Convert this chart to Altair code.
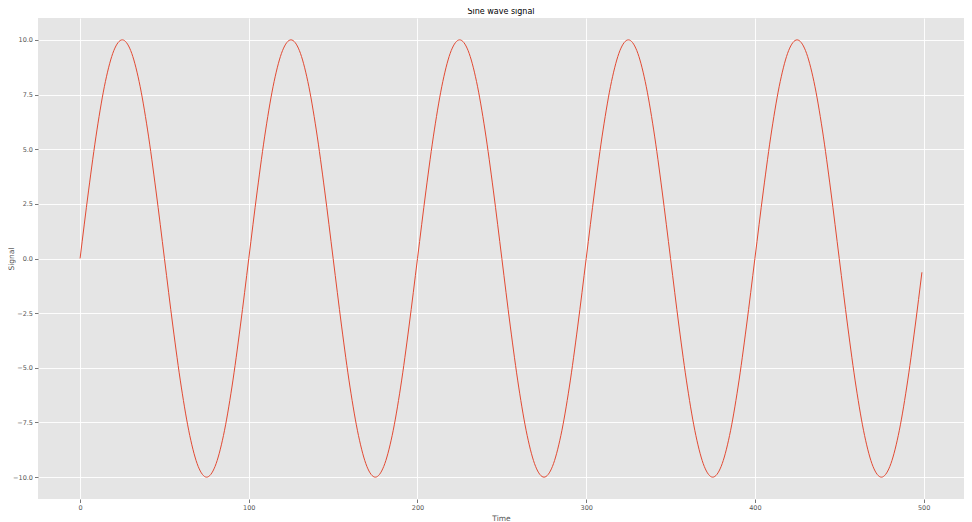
import altair as alt
import pandas as pd

time = [0, 5, 10, 15, 20, 25, 30, 35, 40, 45, 50, 55, 60, 65, 70, 75, 80, 85, 90, 95,
        100, 105, 110, 115, 120, 125, 130, 135, 140, 145, 150, 155, 160, 165, 170, 175, 180, 185, 190, 195,
        200, 205, 210, 215, 220, 225, 230, 235, 240, 245, 250, 255, 260, 265, 270, 275, 280, 285, 290, 295,
        300, 305, 310, 315, 320, 325, 330, 335, 340, 345, 350, 355, 360, 365, 370, 375, 380, 385, 390, 395,
        400, 405, 410, 415, 420, 425, 430, 435, 440, 445, 450, 455, 460, 465, 470, 475, 480, 485, 490, 495,
        499]

signal = [0.0, 3.09, 5.88, 8.09, 9.51, 10.0, 9.51, 8.09, 5.88, 3.09, 0.0, -3.09, -5.88, -8.09, -9.51, -10.0, -9.51, -8.09, -5.88, -3.09,
          0.0, 3.09, 5.88, 8.09, 9.51, 10.0, 9.51, 8.09, 5.88, 3.09, 0.0, -3.09, -5.88, -8.09, -9.51, -10.0, -9.51, -8.09, -5.88, -3.09,
          0.0, 3.09, 5.88, 8.09, 9.51, 10.0, 9.51, 8.09, 5.88, 3.09, 0.0, -3.09, -5.88, -8.09, -9.51, -10.0, -9.51, -8.09, -5.88, -3.09,
          0.0, 3.09, 5.88, 8.09, 9.51, 10.0, 9.51, 8.09, 5.88, 3.09, 0.0, -3.09, -5.88, -8.09, -9.51, -10.0, -9.51, -8.09, -5.88, -3.09,
          0.0, 3.09, 5.88, 8.09, 9.51, 10.0, 9.51, 8.09, 5.88, 3.09, 0.0, -3.09, -5.88, -8.09, -9.51, -10.0, -9.51, -8.09, -5.88, -3.09,
          -0.63]

x_ticks = [0, 100, 200, 300, 400, 500]
y_ticks = [-10.0, -7.5, -5.0, -2.5, 0.0, 2.5, 5.0, 7.5, 10.0]

df = pd.DataFrame({"Time": time, "Signal": signal})

FONT = "DejaVu Sans"

chart = (
    alt.Chart(df)
    .mark_line(color="#E24A33", strokeWidth=1, interpolate="monotone")
    .encode(
        x=alt.X(
            "Time:Q",
            scale=alt.Scale(domain=[-24.95, 523.95], nice=False, zero=False),
            axis=alt.Axis(
                values=x_ticks,
                title="Time",
                format="d",
                titlePadding=3,
            ),
        ),
        y=alt.Y(
            "Signal:Q",
            scale=alt.Scale(domain=[-11, 11], nice=False, zero=False),
            axis=alt.Axis(
                values=y_ticks,
                title="Signal",
                format=".1f",
                labelExpr="replace(datum.label, '-', '\u2212')",
                titleX=-23,
            ),
        ),
    )
    .properties(
        width=926,
        height=481,
        title=alt.TitleParams("Sine wave signal", fontSize=8, font=FONT,
                              fontWeight="normal", color="black", offset=2),
        autosize=alt.AutoSizeParams(type="none"),
        padding={"left": 30, "top": 10, "right": 0, "bottom": 22},
    )
    .configure_view(fill="#E5E5E5", stroke=None)
    .configure_axis(
        grid=True,
        gridColor="white",
        gridWidth=0.9,
        domain=False,
        tickColor="#555555",
        tickSize=3.5,
        tickWidth=0.8,
        labelColor="#555555",
        labelFont=FONT,
        labelFontSize=6.5,
        labelPadding=2,
        titleFont=FONT,
        titleFontSize=7.5,
        titleFontWeight="normal",
        titleColor="#555555",
    )
)

chart.save("out.html", embed_options={"renderer": "svg", "actions": False})
